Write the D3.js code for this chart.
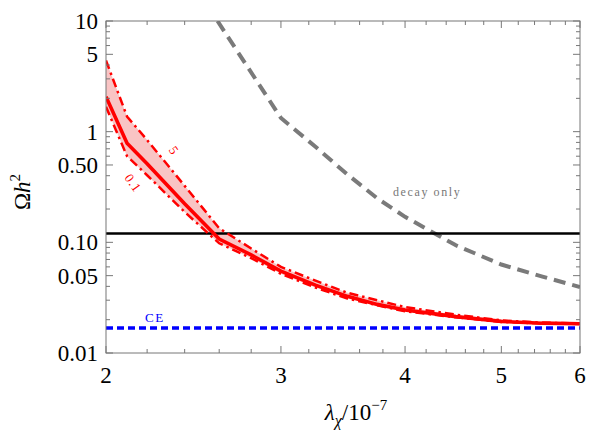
<!DOCTYPE html>
<html><head><meta charset="utf-8">
<script src="https://cdn.jsdelivr.net/npm/d3@7"></script>
</head><body style="margin:0;background:#fff">
<script>
// ---- data ----
const lambda = [2, 2.1, 2.2, 2.4, 2.6, 2.8, 3, 3.25, 3.5, 3.75, 4, 4.5, 5, 5.5, 6];
const omegaCentral = [2.07, 0.785, 0.514, 0.223, 0.107, 0.077, 0.055, 0.041, 0.0325, 0.0275, 0.0245, 0.0213, 0.0193, 0.0186, 0.0184];
const omegaUpper5  = [4.4, 1.37, 0.84, 0.324, 0.134, 0.088, 0.060, 0.045, 0.035, 0.030, 0.026, 0.0222, 0.0197, 0.0188, 0.0185];
const omegaLower01 = [1.68, 0.60, 0.404, 0.188, 0.098, 0.072, 0.052, 0.039, 0.031, 0.027, 0.0238, 0.0210, 0.0191, 0.0185, 0.0183];
const lambdaDecay = [2.59, 3, 3.25, 3.5, 3.75, 4, 4.5, 5, 5.5, 6];
const omegaDecay  = [10, 1.33, 0.73, 0.41, 0.25, 0.17, 0.094, 0.063, 0.049, 0.0395];
const planckValue = 0.12;
const ceValue = 0.0168;
const xTicks = [2, 3, 4, 5, 6];
const xMinorTicks = [2.2,2.4,2.6,2.8,3.2,3.4,3.6,3.8,4.2,4.4,4.6,4.8,5.2,5.4,5.6,5.8];
const yTicks = [0.01, 0.05, 0.1, 0.5, 1, 5, 10];
const yTickLabels = ["0.01", "0.05", "0.10", "0.50", "1", "5", "10"];
const yMinorTicks = [0.02,0.03,0.04,0.06,0.07,0.08,0.09,0.2,0.3,0.4,0.6,0.7,0.8,0.9,2,3,4,6,7,8,9];

const W = 598, H = 436;
const m = {l:106, r:18, t:21, b:83};
const SERIF = "Times New Roman";
const SMALL = "Tinos";
const svg = d3.select("body").append("svg").attr("width", W).attr("height", H).style("display","block");
const x = d3.scaleLog().domain([2, 6]).range([m.l, W - m.r]);
const y = d3.scaleLog().domain([0.01, 10]).range([H - m.b, m.t]);

svg.append("defs").append("clipPath").attr("id","clip")
  .append("rect").attr("x", m.l).attr("y", m.t).attr("width", W-m.l-m.r).attr("height", H-m.t-m.b);
const g = svg.append("g").attr("clip-path","url(#clip)");

const pts = (xs, ys) => xs.map((v,i)=>[v, ys[i]]);
const line = d3.line().x(d=>x(d[0])).y(d=>y(d[1]));

// band
const area = d3.area().x(d=>x(d.l)).y0(d=>y(d.lo)).y1(d=>y(d.hi));
g.append("path").datum(lambda.map((l,i)=>({l, lo: omegaLower01[i], hi: omegaUpper5[i]})))
  .attr("d", area).attr("fill", "#f9c4c4");

// decay only
g.append("path").datum(pts(lambdaDecay, omegaDecay)).attr("d", line)
  .attr("fill","none").attr("stroke","#7a7a7a").attr("stroke-width",4).attr("stroke-dasharray","12,7");

// Planck
g.append("line").attr("x1", x(2)).attr("x2", x(6)).attr("y1", y(planckValue)).attr("y2", y(planckValue))
  .attr("stroke","#000").attr("stroke-width",2.6);

// CE
g.append("line").attr("x1", x(2)).attr("x2", x(6)).attr("y1", y(ceValue)).attr("y2", y(ceValue))
  .attr("stroke","#0000ff").attr("stroke-width",3.5).attr("stroke-dasharray","7,4");

// red curves
g.append("path").datum(pts(lambda, omegaUpper5)).attr("d", line)
  .attr("fill","none").attr("stroke","#ff0000").attr("stroke-width",2.5).attr("stroke-dasharray","9,4,2.5,4");
g.append("path").datum(pts(lambda, omegaLower01)).attr("d", line)
  .attr("fill","none").attr("stroke","#ff0000").attr("stroke-width",2.5).attr("stroke-dasharray","9,4,2.5,4");
g.append("path").datum(pts(lambda, omegaCentral)).attr("d", line)
  .attr("fill","none").attr("stroke","#ff0000").attr("stroke-width",3.6);

// frame & ticks
const ax = svg.append("g").attr("stroke","#777").attr("stroke-width",1);
ax.append("rect").attr("x", m.l).attr("y", m.t).attr("width", W-m.l-m.r).attr("height", H-m.t-m.b).attr("fill","none");
const x0 = m.l, x1 = W-m.r, y0 = H-m.b, y1 = m.t;
function xt(v, len){
  ax.append("line").attr("x1",x(v)).attr("x2",x(v)).attr("y1",y0).attr("y2",y0-len);
  ax.append("line").attr("x1",x(v)).attr("x2",x(v)).attr("y1",y1).attr("y2",y1+len);
}
function yt(v, len){
  ax.append("line").attr("y1",y(v)).attr("y2",y(v)).attr("x1",x0).attr("x2",x0+len);
  ax.append("line").attr("y1",y(v)).attr("y2",y(v)).attr("x1",x1).attr("x2",x1-len);
}
xTicks.forEach(v=>xt(v,7)); xMinorTicks.forEach(v=>xt(v,4));
yTicks.forEach(v=>yt(v,7)); yMinorTicks.forEach(v=>yt(v,4));

function txt(sel, fam, size){
  return sel.style("font-family", `"${fam}"`).style("font-size", size+"px");
}

txt(svg.append("g").selectAll("text").data(xTicks).join("text")
  .attr("x", d=>x(d)).attr("y", y0+30).attr("text-anchor","middle"), SERIF, 23)
  .attr("fill","#000").text(d=>d);
txt(svg.append("g").selectAll("text").data(yTicks).join("text")
  .attr("x", x0-8).attr("y", d=>y(d)).attr("dy","0.35em").attr("text-anchor","end"), SERIF, 23)
  .attr("fill","#000").text((d,i)=>yTickLabels[i]);

// axis titles
const xl = txt(svg.append("text").attr("x", 356).attr("y", 420).attr("text-anchor","middle"), SERIF, 23).attr("fill","#000");
xl.append("tspan").style("font-style","italic").text("λ");
xl.append("tspan").style("font-style","italic").style("font-size","16px").attr("dy",6).text("χ");
xl.append("tspan").attr("dy",-6).text("/10");
xl.append("tspan").style("font-size","15px").attr("dy",-10).text("−7");

const yl = txt(svg.append("text").attr("transform","translate(30,192) rotate(-90)").attr("text-anchor","middle"), SERIF, 23).attr("fill","#000");
yl.append("tspan").text("Ω");
yl.append("tspan").style("font-style","italic").text("h");
yl.append("tspan").style("font-size","15px").attr("dy",-10).text("2");

// in-plot labels
txt(svg.append("text").attr("x", x(3.89)).attr("y", y(0.262)), SMALL, 12)
  .style("letter-spacing","1.6px").attr("fill","#777").text("decay only");
txt(svg.append("text").attr("x", x(2.24)).attr("y", y(0.019)).attr("text-anchor","middle"), SMALL, 13)
  .style("letter-spacing","1.5px").attr("fill","#0000ff").text("CE");
txt(svg.append("text").attr("transform", `translate(${x(2.34)},${y(0.684)}) rotate(55)`).attr("text-anchor","middle")
  .attr("dy","0.35em"), SMALL, 13).attr("fill","#ff0000").text("5");
txt(svg.append("text").attr("transform", `translate(${x(2.13)},${y(0.344)}) rotate(55)`).attr("text-anchor","middle")
  .attr("dy","0.35em"), SMALL, 13).style("letter-spacing","1px").attr("fill","#ff0000").text("0.1");
</script>
</body></html>
